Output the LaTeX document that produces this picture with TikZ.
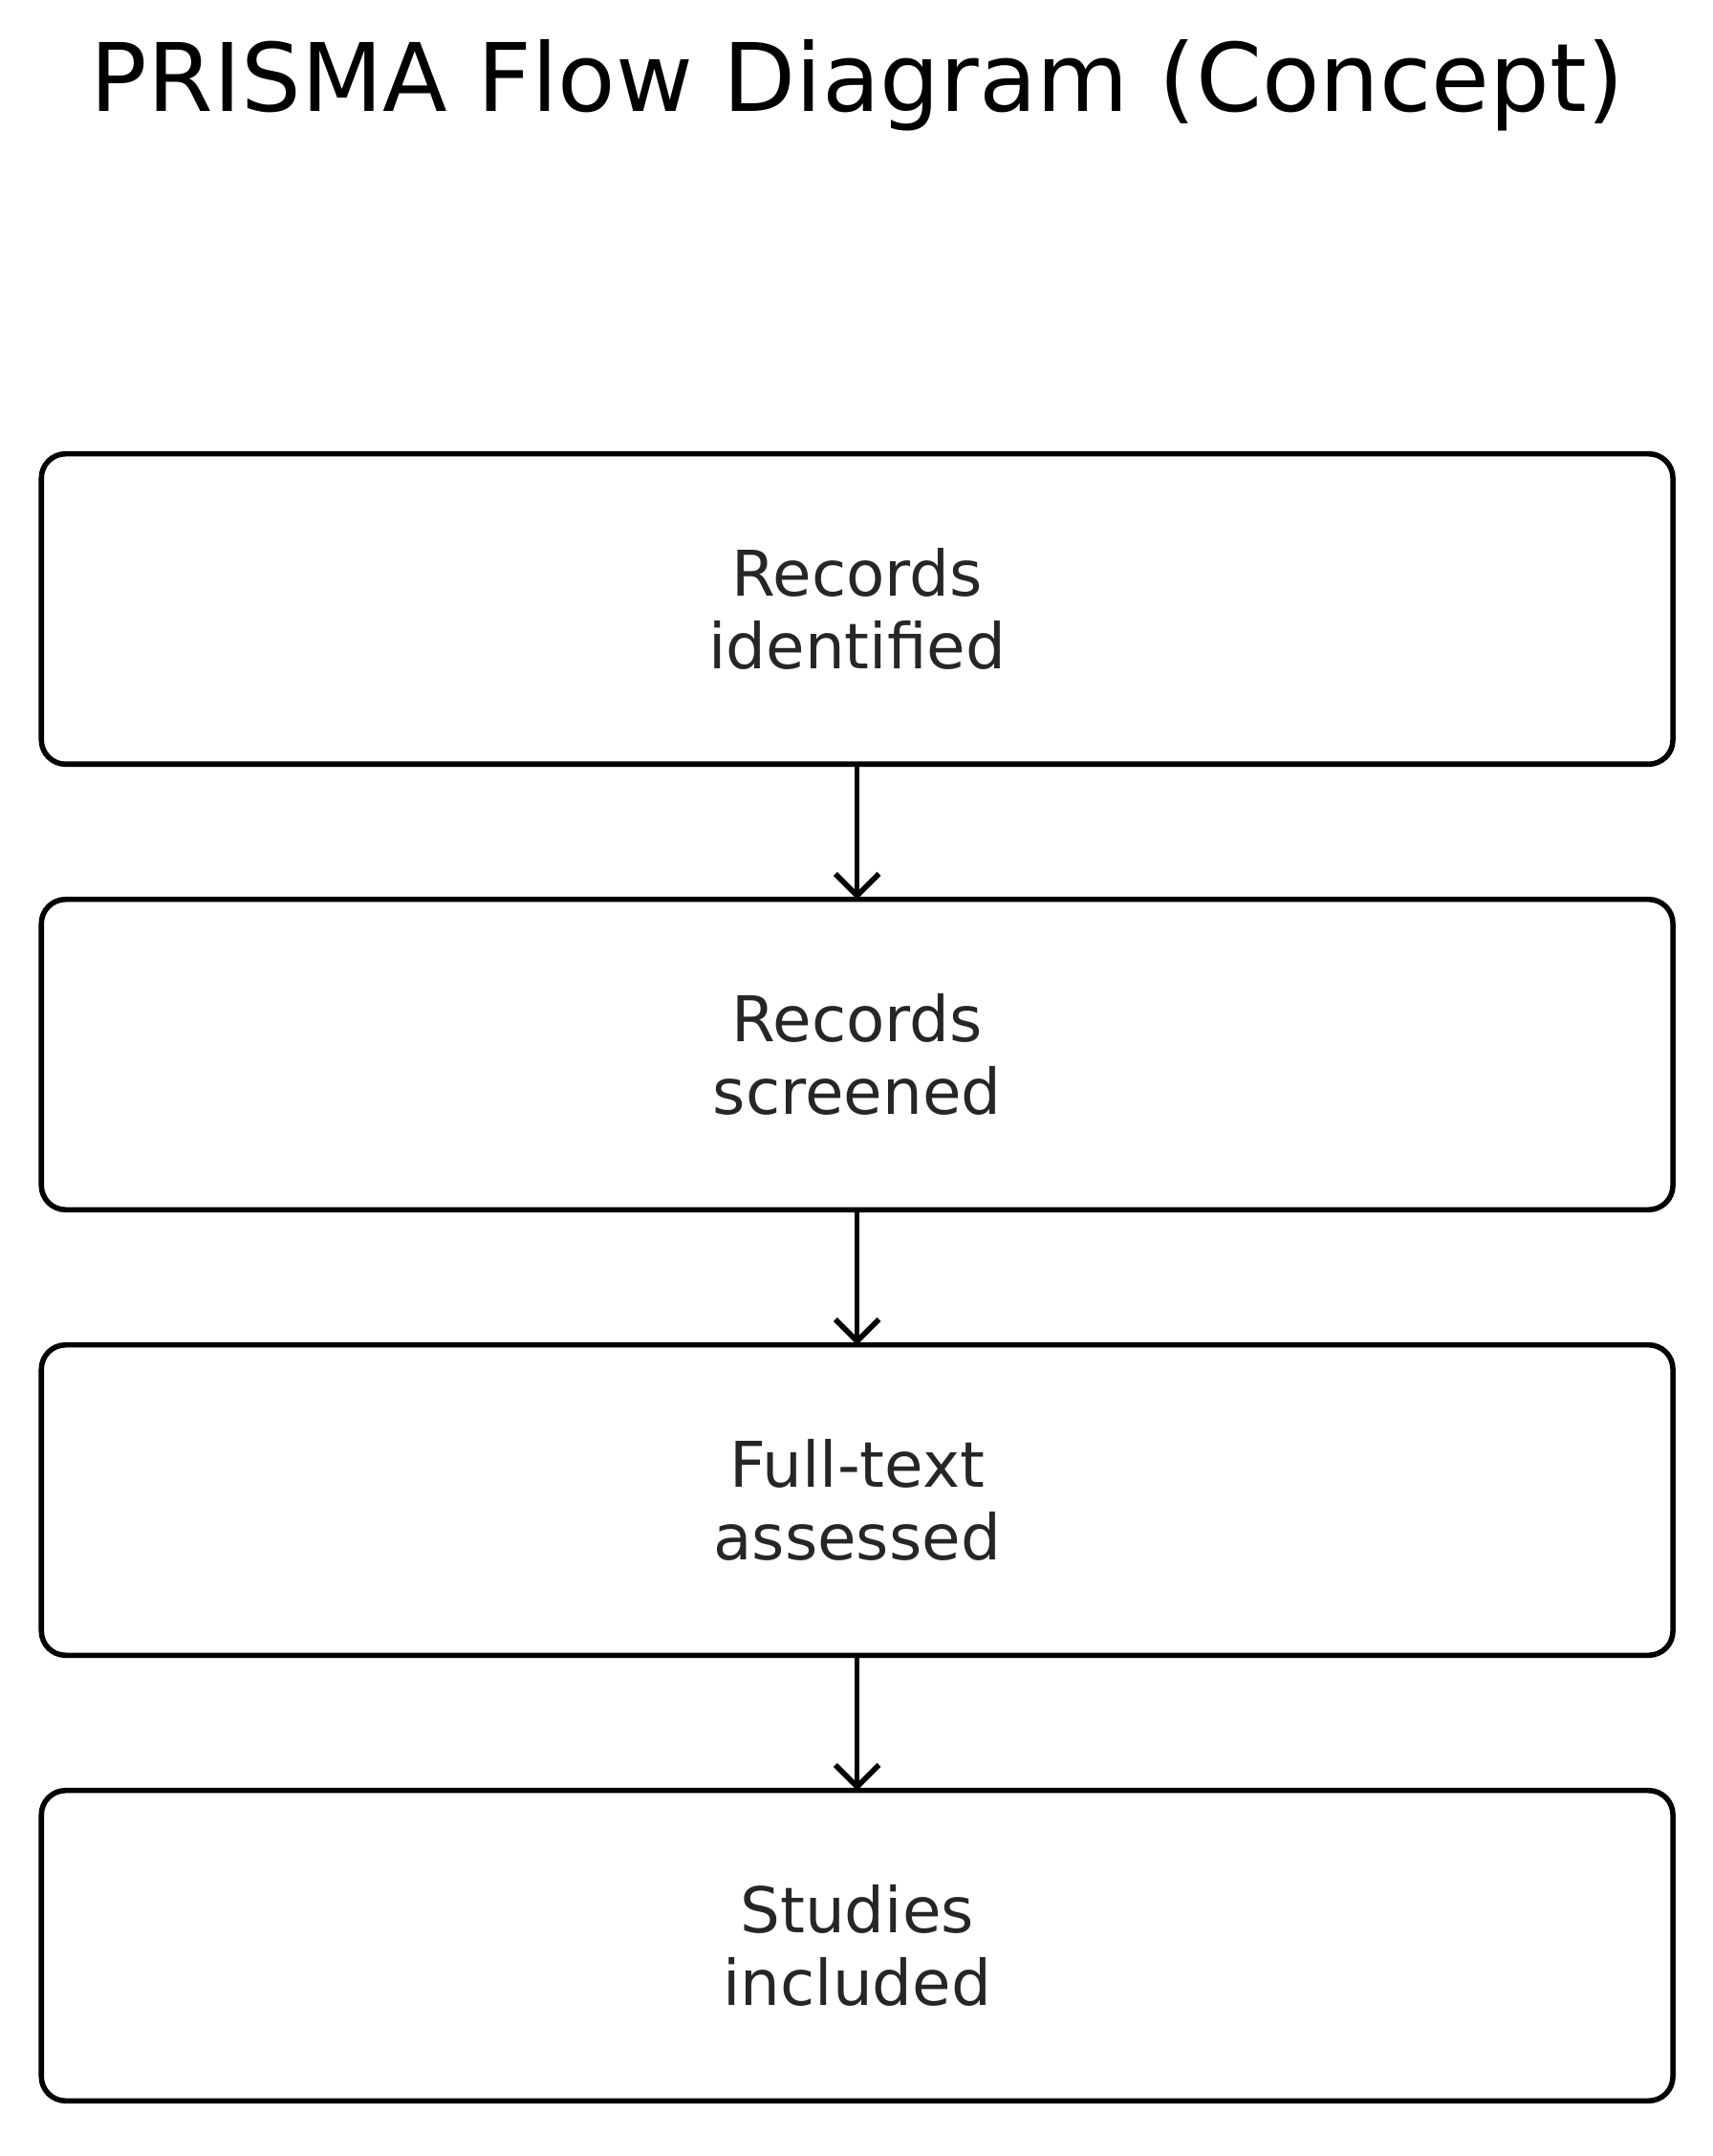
\documentclass[tikz,border=0pt]{standalone}
\usepackage{fontspec}
\setmainfont{DejaVu Sans}
\usetikzlibrary{positioning,arrows.meta}

\begin{document}
\begin{tikzpicture}[b/.style={draw, line width=2.2pt, rounded corners=10pt, outer sep=0pt, minimum width=23.66cm, minimum height=4.5cm, align=center, font=\fontsize{26}{30}\selectfont, text=black!85}]
		\useasboundingbox (0,0) rectangle (24.84,-31.26);
		\node[font=\fontsize{39}{46}\selectfont] (t) at (12.43,-1.24) {PRISMA Flow Diagram (Concept)};
		\node[b] (a) at (12.43,-8.83) {Records\\identified};
		\node[b, below=1.96cm of a] (s) {Records\\screened};
		\node[b, below=1.96cm of s] (f) {Full-text\\assessed};
		\node[b, below=1.96cm of f] (i) {Studies\\included};

		\path[-{Straight Barb[length=9pt,width=18pt]}, line width=2.2pt] (a) edge (s);
		\path[-{Straight Barb[length=9pt,width=18pt]}, line width=2.2pt] (s) edge (f);
		\path[-{Straight Barb[length=9pt,width=18pt]}, line width=2.2pt] (f) edge (i);
	\end{tikzpicture}
\end{document}
